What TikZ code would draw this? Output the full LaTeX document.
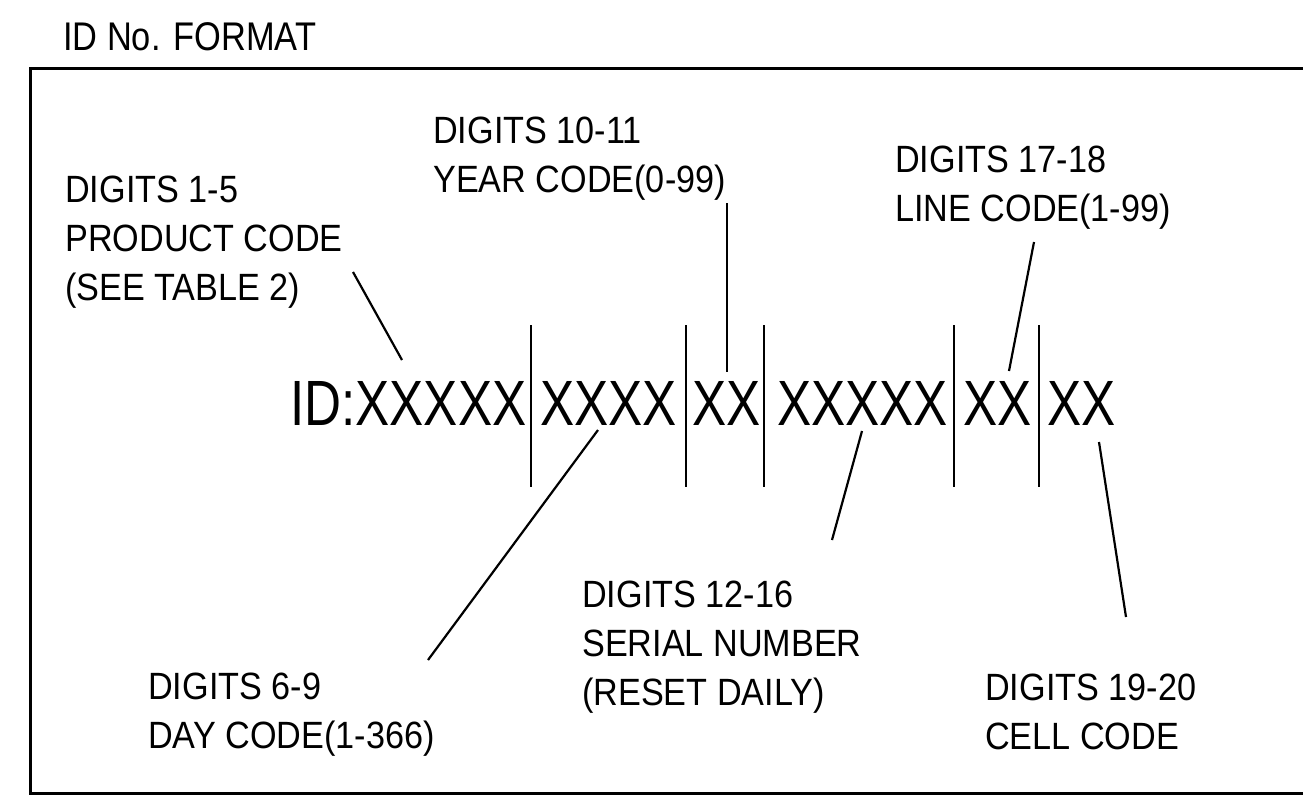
\documentclass[tikz,border=0pt]{standalone}
\usepackage{fontspec}
\setmainfont{Liberation Sans}
\newfontfamily\lblfont[FakeStretch=0.9]{Liberation Sans}
\newfontfamily\bigfont[FakeStretch=0.8]{Liberation Sans}
\newfontfamily\ttlfont[FakeStretch=0.86]{Liberation Sans}
\begin{document}
\begin{tikzpicture}[x=1pt,y=-1pt,
  lbl/.style={font=\lblfont\fontsize{38}{49}\selectfont, align=left, anchor=north west, inner sep=0pt},
  seg/.style={font=\bigfont\fontsize{64}{70}\selectfont, anchor=base west, inner sep=0pt},
  leader/.style={line width=2.2pt},
  sepline/.style={line width=2.2pt},
  frameline/.style={line width=3pt}]
\useasboundingbox (0,0) rectangle (1303,809);
% frame (right side runs off the picture)
\coordinate (fbr) at (1310,793);
\coordinate (fbl) at (30,793);
\coordinate (ftl) at (30,68);
\coordinate (ftr) at (1310,68);
\draw[frameline] (ftr) -- (ftl) -- (fbl) -- (fbr);
% title
\node[font=\ttlfont\fontsize{40}{48}\selectfont, anchor=base west, inner sep=0pt] (title) at (63,50) {ID No. FORMAT};
% ID segments
\node[seg] (s1) at (290,425) {ID:XXXXX};
\node[seg] (s2) at (540,425) {XXXX};
\node[seg] (s3) at (692,425) {XX};
\node[seg] (s4) at (777,425) {XXXXX};
\node[seg] (s5) at (963,425) {XX};
\node[seg] (s6) at (1047,425) {XX};
% separator bars
\foreach \i/\x in {1/531,2/686,3/764,4/954,5/1039}{
  \coordinate (bt\i) at (\x,325);
  \coordinate (bb\i) at (\x,487);
  \draw[sepline] (bt\i) -- (bb\i);
}
% labels
\node[lbl] (lprod) at (65,176) {DIGITS 1-5\\PRODUCT CODE\\(SEE TABLE 2)};
\node[lbl] (lyear) at (433,117) {DIGITS 10-11\\YEAR CODE(0-99)};
\node[lbl] (lline) at (895,146) {DIGITS 17-18\\LINE CODE(1-99)};
\node[lbl] (lday) at (148,673) {DIGITS 6-9\\DAY CODE(1-366)};
\node[lbl] (lser) at (582,580.8) {DIGITS 12-16\\SERIAL NUMBER\\(RESET DAILY)};
\node[lbl] (lcell) at (985,674) {DIGITS 19-20\\CELL CODE};
% leader ends
\coordinate (pa) at (353,272); \coordinate (pb) at (402,360);
\coordinate (ya) at (727,203); \coordinate (yb) at (727,372);
\coordinate (la) at (1034,242); \coordinate (lb) at (1009,371);
\coordinate (da) at (598,430); \coordinate (db) at (428,660);
\coordinate (sa) at (862,431); \coordinate (sb) at (832,540);
\coordinate (ca) at (1099,442); \coordinate (cb) at (1126,617);
\draw[leader] (pa) -- (pb);
\draw[leader] (ya) -- (yb);
\draw[leader] (la) -- (lb);
\draw[leader] (da) -- (db);
\draw[leader] (sa) -- (sb);
\draw[leader] (ca) -- (cb);
\end{tikzpicture}
\end{document}
